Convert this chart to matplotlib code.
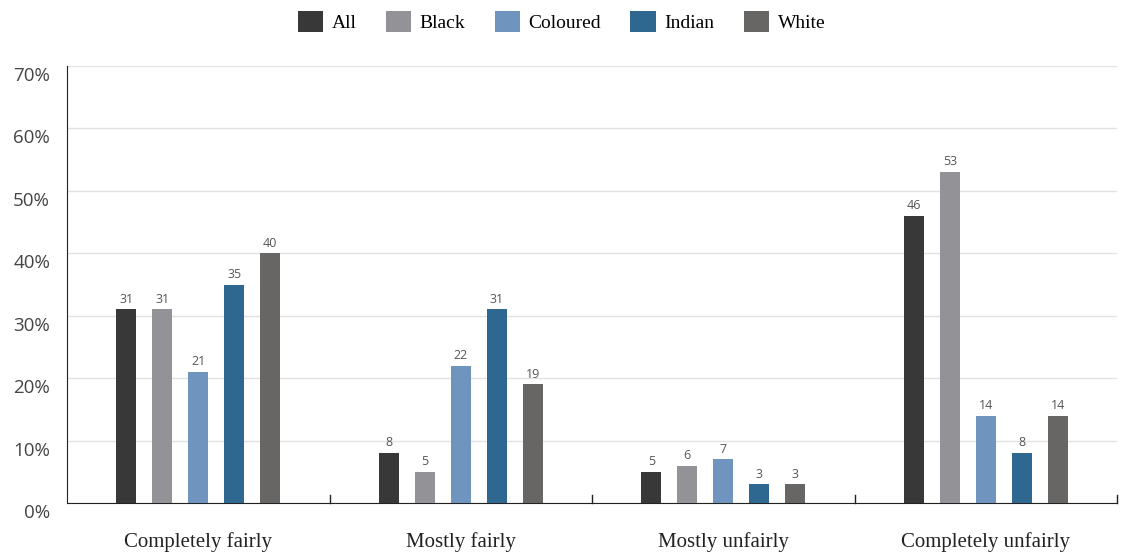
import numpy as np
import matplotlib
matplotlib.use("Agg")
import matplotlib.pyplot as plt
import matplotlib.transforms as mtransforms

categories = ["Completely fairly", "Mostly fairly", "Mostly unfairly", "Completely unfairly"]
groups = ["All", "Black", "Coloured", "Indian", "White"]
all_vals = [31, 8, 5, 46]
black_vals = [31, 5, 6, 53]
coloured_vals = [21, 22, 7, 14]
indian_vals = [35, 31, 3, 8]
white_vals = [40, 19, 3, 14]
yticks = [0, 10, 20, 30, 40, 50, 60, 70]

series = [all_vals, black_vals, coloured_vals, indian_vals, white_vals]
colors = ["#383838", "#939296", "#6f95be", "#2e6891", "#686664"]

fig = plt.figure(figsize=(11.23, 5.54), dpi=100)
ax = fig.add_axes([67 / 1123, 1 - 503 / 554, 1050 / 1123, 437 / 554])

x = np.arange(len(categories))
bw = 0.076
step = 0.137
for i, (vals, col, name) in enumerate(zip(series, colors, groups)):
    xs = x + (i - 2) * step
    ax.bar(xs, vals, width=bw, color=col, label=name, zorder=3)
    for xi, v in zip(xs, vals):
        ax.text(xi, v + 0.6, str(v), ha="center", va="bottom", fontsize=9,
                color="#555555", family="Open Sans", zorder=4)

ax.set_xlim(-0.5, len(categories) - 0.5)
ax.set_ylim(0, 70)
ax.set_yticks(yticks)
ax.set_yticklabels([])
ax.tick_params(axis="y", length=0)
# y labels sit a little below their gridlines
offset = mtransforms.ScaledTranslation(-17 / 100, -10 / 100, fig.dpi_scale_trans)
for t in yticks:
    ax.text(0, t, f"{t}%", transform=ax.get_yaxis_transform() + offset,
            ha="right", va="center", family="Open Sans", fontsize=13.5, color="#444444")
ax.grid(axis="y", color="#e2e2e2", linewidth=1, zorder=0)

ax.set_xticks(x)
ax.set_xticklabels(categories, family="Liberation Serif", fontsize=15, color="#222222")
ax.tick_params(axis="x", length=0, pad=21)
# group separators
for b in np.arange(0.5, len(categories), 1.0):
    ax.plot([b, b], [0, 1.3], color="#222222", linewidth=1, zorder=4, clip_on=False)

for s in ["top", "right"]:
    ax.spines[s].set_visible(False)
ax.spines["left"].set_color("#222222")
ax.spines["bottom"].set_color("#222222")

leg = fig.legend(loc="upper center", bbox_to_anchor=(0.5, 1.012), ncol=5, frameon=False,
                 prop={"family": "Liberation Serif", "size": 14}, handlelength=1.3,
                 handleheight=1.3, columnspacing=1.5, handletextpad=0.45)

fig.savefig("out.png", dpi=100)
